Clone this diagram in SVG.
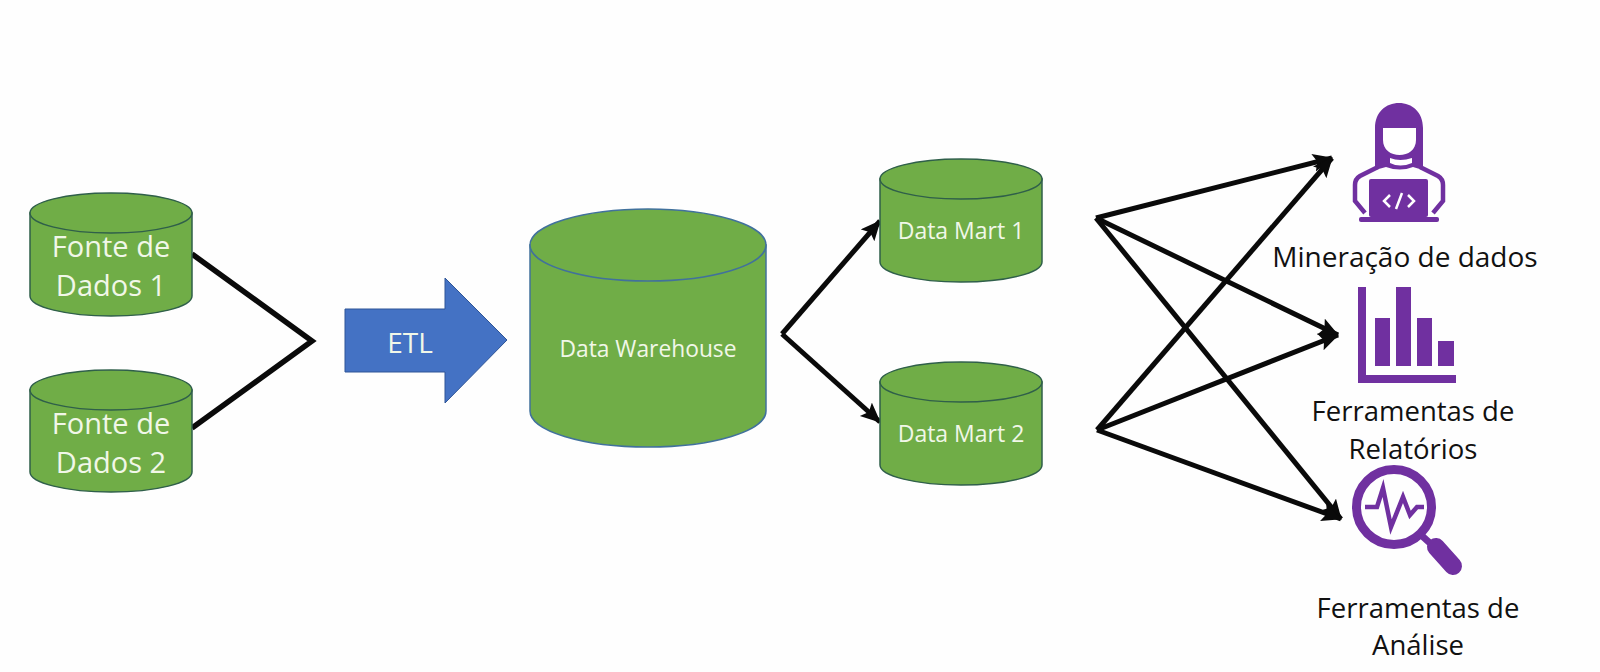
<svg xmlns="http://www.w3.org/2000/svg" width="1600" height="672" viewBox="0 0 1600 672">
<style>
.cb{fill:#70ad47;stroke:#41719c;stroke-width:1.5}
.cd{fill:#70ad47;stroke:#2f5f4a;stroke-width:1.5}
text{font-family:"Open Sans","Noto Sans",sans-serif;text-anchor:middle}
.w{fill:#f1f7e8}
.k{fill:#111}
.c{fill:none;stroke:#0a0a0a;stroke-width:5.500}
.c2{fill:none;stroke:#0a0a0a;stroke-width:5;marker-end:url(#a)}
.p{fill:#7030a0}
.ps{fill:none;stroke:#7030a0}
</style>
<defs>
<marker id="a" markerUnits="userSpaceOnUse" markerWidth="24" markerHeight="20" refX="19" refY="9" orient="auto"><path d="M0 0L20 9L0 18L4 9Z" fill="#0a0a0a"/></marker>
</defs>
<rect width="1600" height="672" fill="#fefefe"/>
<g id="connectors">
<path class="c" d="M192 254L312 341L192 428"/>
<path class="c2" d="M782 334L880 221"/>
<path class="c2" d="M782 334L880 422"/>
<path class="c2" d="M1096 218L1332 158"/>
<path class="c2" d="M1096 218L1338 335"/>
<path class="c2" d="M1096 218L1341 519"/>
<path class="c2" d="M1097 430L1332 158"/>
<path class="c2" d="M1097 430L1338 335"/>
<path class="c2" d="M1097 430L1341 519"/>
</g>
<g id="fonte1">
<path class="cd" d="M30 213V296A81 20 0 0 0 192 296V213Z"/><ellipse class="cd" cx="111" cy="213" rx="81" ry="20"/>
<text class="w" x="111" y="257" font-size="29">Fonte de</text><text class="w" x="111" y="296" font-size="29">Dados 1</text>
</g>
<g id="fonte2">
<path class="cd" d="M30 390V472A81 20 0 0 0 192 472V390Z"/><ellipse class="cd" cx="111" cy="390" rx="81" ry="20"/>
<text class="w" x="111" y="434" font-size="29">Fonte de</text><text class="w" x="111" y="473" font-size="29">Dados 2</text>
</g>
<g id="etl">
<path d="M345 309H445V278L507 340L445 403V372H345Z" fill="#4472c4" stroke="#2f5597" stroke-width="1"/>
<text class="w" x="410" y="353" font-size="28">ETL</text>
</g>
<g id="dw">
<path class="cb" d="M530 245V411A118 36 0 0 0 766 411V245Z"/><ellipse class="cb" cx="648" cy="245" rx="118" ry="36"/>
<text class="w" x="648" y="357" font-size="22.800">Data Warehouse</text>
</g>
<g id="mart1">
<path class="cd" d="M880 179V262A81 20 0 0 0 1042 262V179Z"/><ellipse class="cd" cx="961" cy="179" rx="81" ry="20"/>
<text class="w" x="961" y="239" font-size="23">Data Mart 1</text>
</g>
<g id="mart2">
<path class="cd" d="M880 382V465A81 20 0 0 0 1042 465V382Z"/><ellipse class="cd" cx="961" cy="382" rx="81" ry="20"/>
<text class="w" x="961" y="442" font-size="23">Data Mart 2</text>
</g>
<g id="mineracao">
<path class="ps" stroke-width="4.500" d="M1378 167L1360 176Q1355 179 1355 185V201L1365 213M1420 167L1438 176Q1443 179 1443 185V201L1433 213"/>
<path class="p" d="M1375 170V128C1375 112 1386 103 1399 103C1412 103 1423 112 1423 128V170L1413 167Q1400 172 1386 167Z"/>
<path d="M1383 128H1416V140C1416 150 1408 155 1399.500 155C1391 155 1383 150 1383 140Z" fill="#fff"/>
<path d="M1390 158Q1400 162 1412 158V163Q1400 168 1390 163Z" fill="#fff"/>
<rect class="p" x="1369" y="179" width="59" height="38" rx="2"/>
<rect class="p" x="1359" y="217" width="80" height="5" rx="2"/>
<path d="M1390 195L1384 201L1390 207M1408 195L1414 201L1408 207M1402 193L1396 209" fill="none" stroke="#fff" stroke-width="2.500"/>
<text class="k" x="1405" y="267" font-size="28">Mineração de dados</text>
</g>
<g id="relatorios">
<path class="p" d="M1358 287H1366V375H1456V383H1358Z"/>
<rect class="p" x="1375" y="318" width="15" height="48"/>
<rect class="p" x="1396" y="287" width="15" height="79"/>
<rect class="p" x="1417" y="318" width="15" height="48"/>
<rect class="p" x="1438" y="341" width="16" height="25"/>
<text class="k" x="1413" y="421" font-size="27.500">Ferramentas de</text>
<text class="k" x="1413" y="459" font-size="27.500">Relatórios</text>
</g>
<g id="analise">
<circle class="ps" cx="1394" cy="507" r="37.500" stroke-width="9"/>
<path class="ps" stroke-width="4.500" d="M1365 507H1377L1383 488L1391 527L1403 497L1410 515L1417 507H1424"/>
<path class="ps" stroke-width="7" d="M1421 535L1431 544"/>
<path class="ps" stroke-width="18" stroke-linecap="round" d="M1436 547L1453 566"/>
<text class="k" x="1418" y="618" font-size="27.500">Ferramentas de</text>
<text class="k" x="1418" y="655" font-size="27.500">Análise</text>
</g>
</svg>
